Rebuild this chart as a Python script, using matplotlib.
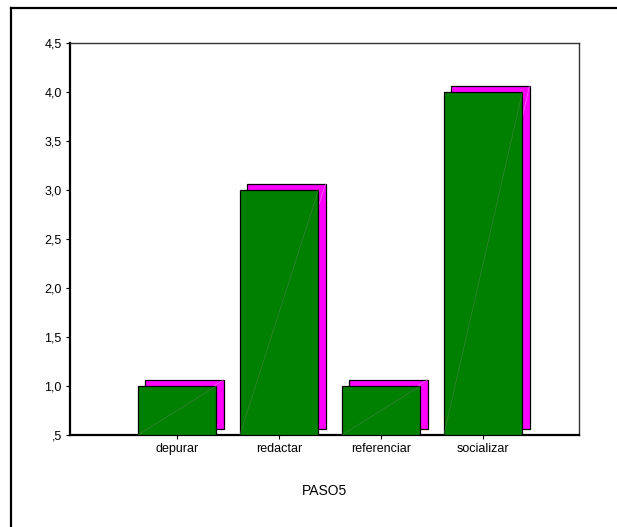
import numpy as np
import matplotlib
matplotlib.use("Agg")
import matplotlib.pyplot as plt
from matplotlib.lines import Line2D

# -- data --
categories = ["depurar", "redactar", "referenciar", "socializar"]
values = [1.0, 3.0, 1.0, 4.0]
yticks = [0.5, 1.0, 1.5, 2.0, 2.5, 3.0, 3.5, 4.0, 4.5]
ytick_labels = [",5", "1,0", "1,5", "2,0", "2,5", "3,0", "3,5", "4,0", "4,5"]
xlabel = "PASO5"


def main():
    plt.rcParams["font.family"] = ["Liberation Sans", "DejaVu Sans"]

    fig = plt.figure(figsize=(6.17, 5.27), dpi=100)
    ax = fig.add_axes([0.1135, 0.1746, 0.8249, 0.7438])

    base = 0.5
    width = 0.77
    dx, dy = 0.07, 0.062
    x = np.arange(len(categories))

    # -- shadow bars --
    ax.bar(x + dx, np.array(values) - base, width=width, bottom=base + dy,
           color="#ff00ff", edgecolor="black", linewidth=0.9, zorder=2)
    # -- main bars --
    ax.bar(x, np.array(values) - base, width=width, bottom=base,
           color="#008000", edgecolor="black", linewidth=0.9, zorder=3)

    # faint diagonals inside bars
    for xi, v in zip(x, values):
        ax.plot([xi + dx - width / 2, xi + dx + width / 2], [base + dy, v + dy],
                color="#ff80ff", linewidth=0.4, zorder=2.5)
        ax.plot([xi - width / 2, xi + width / 2], [base, v],
                color="#4a804a", linewidth=0.4, zorder=3.5)

    ax.set_xlim(-1.05, 3.94)
    ax.set_ylim(0.5, 4.5)
    ax.set_xticks(x)
    ax.set_xticklabels(categories, fontsize=9)
    ax.set_yticks(yticks)
    ax.set_yticklabels(ytick_labels, fontsize=9)
    ax.tick_params(direction="out", length=3, width=0.8, pad=3)
    ax.set_xlabel(xlabel, fontsize=10, labelpad=21)

    for side in ["left", "bottom"]:
        ax.spines[side].set_linewidth(1.6)
    for side in ["top", "right"]:
        ax.spines[side].set_linewidth(1.0)
        ax.spines[side].set_color("#333333")

    # -- outer frame (top and left only visible) --
    fig.add_artist(Line2D([11 / 617, 1.0], [1 - 7.5 / 527, 1 - 7.5 / 527],
                          transform=fig.transFigure, color="black", linewidth=1.6))
    fig.add_artist(Line2D([11 / 617, 11 / 617], [0.0, 1 - 7.5 / 527],
                          transform=fig.transFigure, color="black", linewidth=1.6))

    plt.savefig("out.png", dpi=100)
    plt.close("all")


if __name__ == "__main__":
    main()
